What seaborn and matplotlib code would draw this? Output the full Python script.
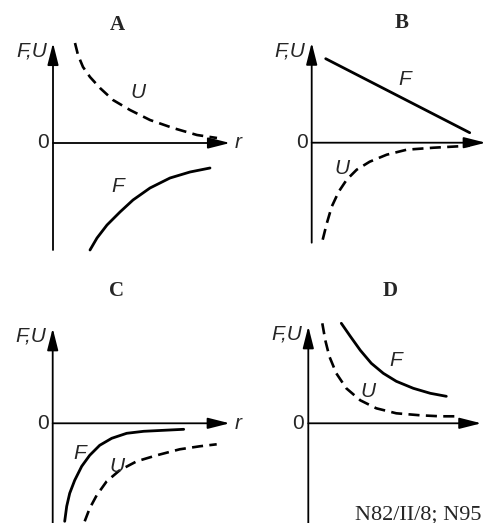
import seaborn as sns
import matplotlib.pyplot as plt

sns.set_style("white")
plt.rcParams['font.family'] = ['Liberation Sans', 'DejaVu Sans']

W, H = 488, 523

# panel A: U falls from + towards 0, F rises from - towards 0
a_u_r = [22, 25, 30, 37, 47, 60, 77, 97, 120, 144, 164]
a_u_v = [100, 88, 76, 66, 55, 43, 33, 23, 15, 8, 5]
a_f_r = [37, 44, 54, 67, 80, 97, 117, 137, 157]
a_f_v = [-107, -95, -82, -69, -57, -45, -35, -29, -25]

# panel B: F straight line, U negative
b_f_r = [14, 158]
b_f_v = [84, 10]
b_u_r = [11, 15, 20, 27, 35, 45, 58, 75, 95, 122, 158]
b_u_v = [-97, -81, -64, -49, -37, -27, -19, -12, -7, -5, -3]

# panel C: both negative
c_f_r = [12, 14, 17, 22, 29, 37, 47, 59, 74, 91, 111, 131]
c_f_v = [-98, -83, -70, -57, -43, -32, -22, -15, -10, -8, -7, -6]
c_u_r = [32, 37, 44, 54, 67, 84, 104, 127, 147, 164]
c_u_v = [-98, -85, -72, -58, -47, -38, -32, -26, -23, -21]

# panel D: both positive
d_f_r = [33, 42, 52, 63, 75, 88, 105, 122, 138]
d_f_v = [100, 87, 73, 60, 50, 42, 35, 30, 27]
d_u_r = [14, 17, 21, 28, 38, 52, 68, 88, 112, 132, 148]
d_u_v = [100, 83, 67, 50, 35, 23, 15, 10, 8, 7, 7]

fig = plt.figure(figsize=(W / 100, H / 100), dpi=100)


def panel(ox, oy, title, tx, ty, ytop, ybot, xtip, show_r):
    x0, x1, y0, y1 = -50, 190, -120, 140
    ax = fig.add_axes([(ox + x0) / W, (H - (oy - y0)) / H,
                       (x1 - x0) / W, (y1 - y0) / H])
    ax.set_xlim(x0, x1)
    ax.set_ylim(y0, y1)
    ax.axis("off")
    ax.patch.set_alpha(0)
    ap = dict(arrowstyle="-|>,head_length=0.95,head_width=0.24", lw=1.3,
              color="black", shrinkA=0, shrinkB=0, mutation_scale=14)
    ax.annotate("", xy=(xtip, 0), xytext=(0, 0), arrowprops=ap,
                annotation_clip=False)
    ax.annotate("", xy=(0, ytop), xytext=(0, ybot), arrowprops=ap,
                annotation_clip=False)
    ax.text(-4, 0, "0", ha="right", va="center", fontsize=15)
    ax.text(-6, ytop - 8, "F,U", ha="right", va="center", fontsize=15,
            fontstyle="italic")
    if show_r:
        ax.text(xtip + 5, 0, "r", ha="left", va="center", fontsize=15,
                fontstyle="italic")
    ax.text(tx, ty, title, ha="center", va="center", fontsize=15,
            fontweight="bold", family="Liberation Serif")
    return ax


def solid(ax, r, v):
    sns.lineplot(x=r, y=v, ax=ax, color="black", lw=2.0, sort=False,
                 estimator=None)


def dashed(ax, r, v):
    sns.lineplot(x=r, y=v, ax=ax, color="black", lw=1.9, sort=False,
                 estimator=None, linestyle=(0, (4.2, 2.4)))


def lab(ax, x, y, s):
    ax.text(x, y, s, ha="center", va="center", fontsize=15,
            fontstyle="italic")


ax = panel(53, 143, "A", 64, 118, 100, -107, 177, True)
dashed(ax, a_u_r, a_u_v)
solid(ax, a_f_r, a_f_v)
lab(ax, 85, 50, "U")
lab(ax, 65, -44, "F")

ax = panel(311.7, 142.7, "B", 90, 120, 100, -100, 174, False)
solid(ax, b_f_r, b_f_v)
dashed(ax, b_u_r, b_u_v)
lab(ax, 93, 63, "F")
lab(ax, 30, -26, "U")

ax = panel(52.7, 423.3, "C", 64, 132, 95, -100, 177, True)
solid(ax, c_f_r, c_f_v)
dashed(ax, c_u_r, c_u_v)
lab(ax, 27, -30, "F")
lab(ax, 64, -43, "U")

ax = panel(308.3, 423.3, "D", 82, 132, 97, -100, 173, False)
solid(ax, d_f_r, d_f_v)
dashed(ax, d_u_r, d_u_v)
lab(ax, 87, 63, "F")
lab(ax, 60, 32, "U")

fig.text(355 / W, 1 - 515 / H, "N82/II/8; N95", ha="left", va="center",
         fontsize=16, family="Liberation Serif")

fig.savefig("out.png", dpi=100)
